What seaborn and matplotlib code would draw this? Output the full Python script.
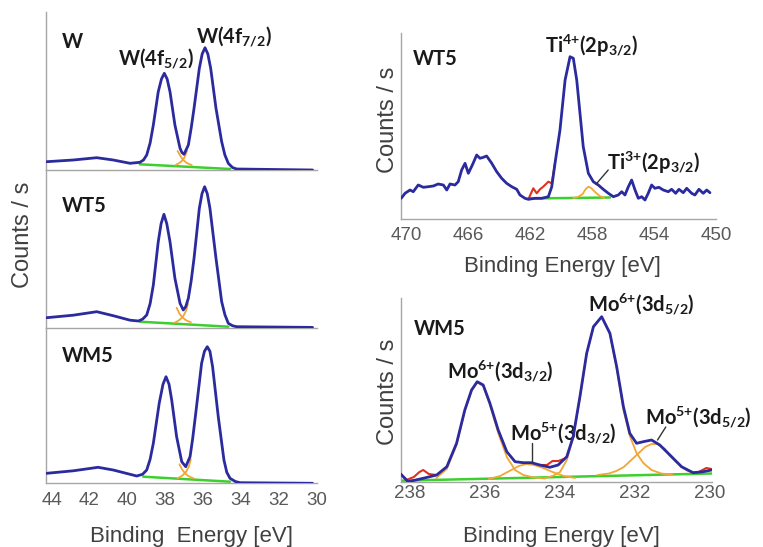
import matplotlib
matplotlib.use("Agg")
import matplotlib.pyplot as plt
import seaborn as sns

# ---------------- data (binding energy [eV], counts / s in arbitrary units) ----------------
# W 4f, sample W
w_be = [44.26, 42.86, 41.62, 40.75, 39.86, 39.34, 39.15, 38.98, 38.8, 38.63, 38.37, 38.2, 38.05, 37.9,
        37.75, 37.49, 37.22, 37.12, 37.01, 36.78, 36.63, 36.48, 36.2, 36.05, 35.9, 35.75, 35.6, 35.32,
        35.02, 34.85, 34.67, 34.45, 34.23, 30.22]
w_cps = [8.3, 10, 12.3, 10, 6.7, 7.7, 10, 15, 27, 45, 78.3, 91, 96.7, 91,
         78.3, 45, 21.7, 17.5, 15.7, 25, 42, 61.7, 101.7, 116, 122.3, 116, 101.7, 61.7,
         28.3, 15, 6.7, 2.5, 1, 0]
w_c1_be = [37.35, 37.2, 37.05, 36.9, 36.75, 36.6]
w_c1 = [19, 14, 10, 7.5, 6, 5]
w_c2_be = [37.45, 37.3, 37.15, 37.0, 36.85]
w_c2 = [5, 6.5, 8.5, 12, 19]
w_bg_be = [39.34, 34.58]
w_bg = [5.7, 1]

# W 4f, sample WT5
wt_be = [44.26, 42.86, 41.62, 40.75, 39.86, 39.42, 39.2, 38.98, 38.8, 38.63, 38.37, 38.22, 38.07, 37.92,
         37.75, 37.49, 37.22, 37.05, 36.92, 36.78, 36.63, 36.48, 36.2, 36.06, 35.92, 35.78, 35.64, 35.32,
         35.02, 34.85, 34.67, 34.45, 34.23, 30.22]
wt_cps = [10, 12.5, 16, 12, 7.5, 6.7, 8.5, 12.7, 24, 42.7, 86, 104, 113.4, 104,
          86, 49.4, 24.4, 17.7, 21, 29.4, 47, 69.4, 119.4, 134, 141, 134, 119.4, 69.4,
          26, 13, 4.4, 2, 1, 0.3]
wt_c1_be = [37.4, 37.25, 37.1, 36.95, 36.8, 36.65]
wt_c1 = [20, 14, 10.5, 8, 6.5, 5.5]
wt_c2_be = [37.5, 37.35, 37.2, 37.05, 36.9, 36.8]
wt_c2 = [5, 6.5, 8.5, 11.5, 17, 24]
wt_bg_be = [39.34, 34.67]
wt_bg = [6, 1]

# W 4f, sample WM5
wm_be = [44.26, 42.86, 41.55, 40.75, 39.51, 39.2, 38.98, 38.8, 38.63, 38.32, 38.12, 37.96, 37.8, 37.66,
         37.4, 37.13, 36.92, 36.69, 36.55, 36.39, 36.08, 35.93, 35.78, 35.64, 35.5, 35.2, 34.9, 34.75,
         34.58, 34.3, 34.05, 30.22]
wm_cps = [10, 12.5, 16, 13.3, 7.3, 9, 13.3, 24, 40, 80, 99, 106.6, 99, 83.3,
          46.6, 21.6, 16.6, 26.6, 45, 70, 120, 132, 136.6, 132, 116.6, 66.6, 23.3, 11,
          5, 1.8, 0.6, 0]
wm_c1_be = [37.25, 37.1, 36.95, 36.8, 36.65, 36.5]
wm_c1 = [19, 13.5, 10, 7.5, 6, 5]
wm_c2_be = [37.35, 37.2, 37.05, 36.9, 36.75, 36.65]
wm_c2 = [5, 6.5, 8.5, 11.5, 17, 24]
wm_bg_be = [39.16, 34.58]
wm_bg = [6.6, 1.6]

# Ti 2p, sample WT5
ti_be = [470.3, 470.05, 469.73, 469.52, 469.2, 468.87, 468.55, 468.23, 467.91, 467.58, 467.36, 467.15,
         466.83, 466.62, 466.4, 466.18, 465.97, 465.71, 465.43, 465.22, 465.0, 464.79, 464.46, 464.14,
         463.82, 463.5, 463.17, 462.85, 462.64, 462.32, 462.1, 461.67, 461.24, 460.81, 460.59, 460.38,
         460.06, 459.73, 459.41, 459.2, 458.98, 458.77, 458.56, 458.23, 457.91, 457.59, 457.27, 456.94,
         456.62, 456.3, 456.08, 455.87, 455.65, 455.44, 455.22, 455.01, 454.79, 454.58, 454.37, 454.15,
         453.94, 453.68, 453.4, 453.08, 452.86, 452.6, 452.39, 452.11, 451.89, 451.57, 451.36, 451.1,
         450.82, 450.6, 450.39]
ti_cps = [20.7, 25.7, 29, 27.3, 34, 31.7, 32.3, 33, 35, 34, 29, 35,
          34, 37.3, 49, 55.7, 45.7, 54, 64, 60.7, 61.7, 63, 55.7, 47.3,
          40.7, 35.7, 32.3, 29.7, 24, 20.7, 19.7, 20.7, 20.7, 22.3, 32.3, 55.7,
          89, 139, 162.3, 160.7, 139, 105.7, 72.3, 45.7, 37.3, 34, 29.7, 25.7,
          22.3, 24, 27.3, 24, 32.3, 39, 29, 20.7, 22.3, 19, 25.7, 34,
          30.7, 31.7, 29, 27.3, 29.7, 25.7, 29.7, 26.3, 30.7, 25.7, 24, 29.7,
          25.7, 29, 26.3]
ti_raw_be = [462.1, 461.78, 461.56, 461.35, 461.14, 460.81, 460.59, 460.38]
ti_raw = [19.7, 30.7, 25.7, 29.7, 32.3, 37.3, 35.7, 55.7]
ti3_be = [459.2, 458.9, 458.6, 458.4, 458.23, 458.05, 457.8, 457.5, 457.2]
ti3 = [21, 22, 25, 30, 32.3, 31, 27, 23, 21]
ti_bg_be = [462.1, 456.84]
ti_bg = [20.5, 21.5]

# Mo 3d, sample WM5
mo_be = [238.25, 238.05, 237.65, 237.29, 237.02, 236.76, 236.54, 236.36, 236.21, 236.05, 235.87, 235.65,
         235.42, 235.2, 234.98, 234.76, 234.54, 234.27, 234.05, 233.82, 233.65, 233.47, 233.29, 233.11,
         232.89, 232.67, 232.49, 232.31, 232.14, 231.96, 231.78, 231.56, 231.34, 231.07, 230.76, 230.45,
         230.18, 229.96]
mo_cps = [8, 0.3, 3.7, 7, 15.3, 38.7, 72, 92, 100.3, 97, 78.7, 52,
          30.3, 20.3, 19.3, 19.3, 17, 14.7, 17, 25.3, 45.3, 85.3, 128.7, 155.3,
          165.3, 148.7, 115.3, 75.3, 48.7, 38.7, 40.3, 42, 37, 27, 15.3, 9.3,
          10.3, 12]
mo_raw_segments = [
    ([238.25, 238.1, 237.9, 237.75, 237.65, 237.5, 237.3], [8, 2, 5, 10, 12, 8, 7]),
    ([234.54, 234.35, 234.2, 234.05, 233.9], [17, 17, 21, 21, 23]),
    ([230.45, 230.3, 230.1, 229.96], [9.3, 10, 14, 13]),
]
mo6_32_be = [237.3, 237.02, 236.76, 236.54, 236.36, 236.21, 236.05, 235.87, 235.65, 235.42, 235.2, 234.98, 234.7, 234.4]
mo6_32 = [4, 13, 37, 71, 91, 99.5, 96, 77, 49, 25, 12, 7, 4.5, 3.5]
mo5_32_be = [235.9, 235.6, 235.35, 235.1, 234.9, 234.7, 234.45, 234.2, 233.9, 233.6]
mo5_32 = [3, 6, 11, 16, 18, 17, 14, 10, 6, 4]
mo6_52_be = [234.4, 234.2, 234.0, 233.82, 233.65, 233.47, 233.29, 233.11, 232.89, 232.67, 232.49, 232.31,
             232.14, 231.96, 231.78, 231.56, 231.3, 231.0]
mo6_52 = [4, 6, 10, 22, 44, 84, 128, 155, 165, 148, 114, 72, 46, 29, 19, 12, 8.5, 7]
mo5_52_be = [233.0, 232.7, 232.5, 232.3, 232.1, 231.9, 231.73, 231.56, 231.4, 231.2, 231.07, 230.9, 230.76, 230.6, 230.45]
mo5_52 = [7, 8.5, 11, 15, 22, 29, 35, 38, 38, 33, 26, 20, 15, 11, 9.5]
mo_bg_be = [238.25, 229.96]
mo_bg = [1.3, 8.5]

w_ticks = [44, 42, 40, 38, 36, 34, 32, 30]
ti_ticks = [470, 466, 462, 458, 454, 450]
mo_ticks = [238, 236, 234, 232, 230]

# ---------------- style ----------------
sns.set_theme(style="white")
plt.rcParams["font.family"] = ["Liberation Sans", "DejaVu Sans"]
plt.rcParams["mathtext.fontset"] = "custom"
plt.rcParams["mathtext.rm"] = "Lato:bold"
plt.rcParams["mathtext.it"] = "Lato:bold"
plt.rcParams["mathtext.bf"] = "Lato:bold"

BLUE = "#2b2a9e"
RED = "#e0301e"
ORANGE = "#f2a634"
GREEN = "#3ccf2e"
AXC = "#a6a6a6"
TXT = "#595959"

W_PX, H_PX = 763, 547
fig = plt.figure(figsize=(W_PX / 100, H_PX / 100), dpi=100)


def box(x0, y0, x1, y1):
    return [x0 / W_PX, 1 - y1 / H_PX, (x1 - x0) / W_PX, (y1 - y0) / H_PX]


def fx(x):
    return x / W_PX


def fy(y):
    return 1 - y / H_PX


def draw(ax, x, y, color, lw, z):
    sns.lineplot(x=x, y=y, ax=ax, color=color, lw=lw, sort=False, estimator=None,
                 legend=False, zorder=z)


def style(ax, xlim, ylim, ticks, show_labels, pad):
    ax.set_xlim(*xlim)
    ax.set_ylim(*ylim)
    ax.set_yticks([])
    ax.set_xticks(ticks)
    ax.set_xlabel("")
    ax.set_ylabel("")
    for s in ["top", "right"]:
        ax.spines[s].set_visible(False)
    for s in ["left", "bottom"]:
        ax.spines[s].set_color(AXC)
        ax.spines[s].set_linewidth(1.0)
    ax.tick_params(axis="x", length=0, pad=pad, labelsize=13.5, labelcolor=TXT,
                   labelbottom=show_labels)
    ax.patch.set_alpha(0)


lab_kw = dict(fontfamily="Lato", fontweight="bold", fontsize=14.5, color="#1a1a1a", va="baseline")

# ---------------- left: W 4f stack ----------------
ax1 = fig.add_axes(box(46, 12, 316.7, 170))
ax2 = fig.add_axes(box(46, 170, 316.7, 327.7))
ax3 = fig.add_axes(box(46, 327.7, 316.7, 483.3))

panels = [
    (ax1, w_be, w_cps, w_c1_be, w_c1, w_c2_be, w_c2, w_bg_be, w_bg, 158, "W", 121.7),
    (ax2, wt_be, wt_cps, wt_c1_be, wt_c1, wt_c2_be, wt_c2, wt_bg_be, wt_bg, 157.7, "WT5", 116),
    (ax3, wm_be, wm_cps, wm_c1_be, wm_c1, wm_c2_be, wm_c2, wm_bg_be, wm_bg, 155.6, "WM5", 121.6),
]
for i, (ax, be, cps, c1b, c1, c2b, c2, bgb, bg, top, name, ny) in enumerate(panels):
    draw(ax, bgb, bg, GREEN, 1.8, 2)
    draw(ax, c1b, c1, ORANGE, 1.3, 3)
    draw(ax, c2b, c2, ORANGE, 1.3, 3)
    draw(ax, be, cps, BLUE, 2.0, 5)
    style(ax, (44.3, 30.0), (0, top), w_ticks, i == 2, 6)
    ax.text(43.47, ny, name, ha="left", **lab_kw)

ax1.text(38.5, 105, r"W(4f$_{5/2}$)", ha="center", **lab_kw)
ax1.text(34.37, 126.7, r"W(4f$_{7/2}$)", ha="center", **lab_kw)

# ---------------- right top: Ti 2p ----------------
axT = fig.add_axes(box(400.7, 33, 716, 219))
draw(axT, ti_bg_be, ti_bg, GREEN, 1.8, 2)
draw(axT, ti3_be, ti3, ORANGE, 1.3, 3)
draw(axT, ti_raw_be, ti_raw, RED, 1.5, 4)
draw(axT, ti_be, ti_cps, BLUE, 2.0, 5)
style(axT, (470.33, 450.0), (0, 186), ti_ticks, True, 6)
axT.text(469.54, 154, "WT5", ha="left", **lab_kw)
axT.text(461.02, 165.7, r"Ti$^{4{+}}$(2p$_{3/2}$)", ha="left", clip_on=False, **lab_kw)
axT.text(457.05, 49, r"Ti$^{3{+}}$(2p$_{3/2}$)", ha="left", **lab_kw)
axT.plot([456.95, 457.74], [49, 34.7], color="#333333", lw=1, zorder=6)

# ---------------- right bottom: Mo 3d ----------------
axM = fig.add_axes(box(400.7, 298, 711.9, 482))
draw(axM, mo_bg_be, mo_bg, GREEN, 1.8, 2)
for xb, yb in [(mo6_32_be, mo6_32), (mo5_32_be, mo5_32), (mo6_52_be, mo6_52), (mo5_52_be, mo5_52)]:
    draw(axM, xb, yb, ORANGE, 1.3, 3)
for xb, yb in mo_raw_segments:
    draw(axM, xb, yb, RED, 1.5, 4)
draw(axM, mo_be, mo_cps, BLUE, 2.0, 5)
style(axM, (238.25, 229.95), (0, 184), mo_ticks, True, 2)
axM.text(237.91, 147, "WM5", ha="left", **lab_kw)
axM.text(233.25, 171, r"Mo$^{6{+}}$(3d$_{5/2}$)", ha="left", clip_on=False, **lab_kw)
axM.text(237.02, 104, r"Mo$^{6{+}}$(3d$_{3/2}$)", ha="left", **lab_kw)
axM.text(235.34, 42, r"Mo$^{5{+}}$(3d$_{3/2}$)", ha="left", **lab_kw)
axM.text(231.74, 58, r"Mo$^{5{+}}$(3d$_{5/2}$)", ha="left", clip_on=False, **lab_kw)
axM.plot([234.76, 234.76], [39, 20], color="#333333", lw=1, zorder=6)
axM.plot([231.18, 231.4], [55, 42], color="#333333", lw=1, zorder=6)

# ---------------- axis titles ----------------
xl_kw = dict(fontsize=16, color="#404040", ha="center", va="baseline")
fig.text(fx(191.7), fy(541.7), "Binding  Energy [eV]", **xl_kw)
fig.text(fx(562.5), fy(271.7), "Binding Energy [eV]", **xl_kw)
fig.text(fx(561), fy(541.7), "Binding Energy [eV]", **xl_kw)
yl_kw = dict(fontsize=17, color="#404040", ha="center", va="center", rotation=90)
fig.text(fx(23), fy(235), "Counts / s", **yl_kw)
fig.text(fx(388), fy(120), "Counts / s", **yl_kw)
fig.text(fx(388), fy(392), "Counts / s", **yl_kw)

fig.savefig("out.png", dpi=100, facecolor="white")
